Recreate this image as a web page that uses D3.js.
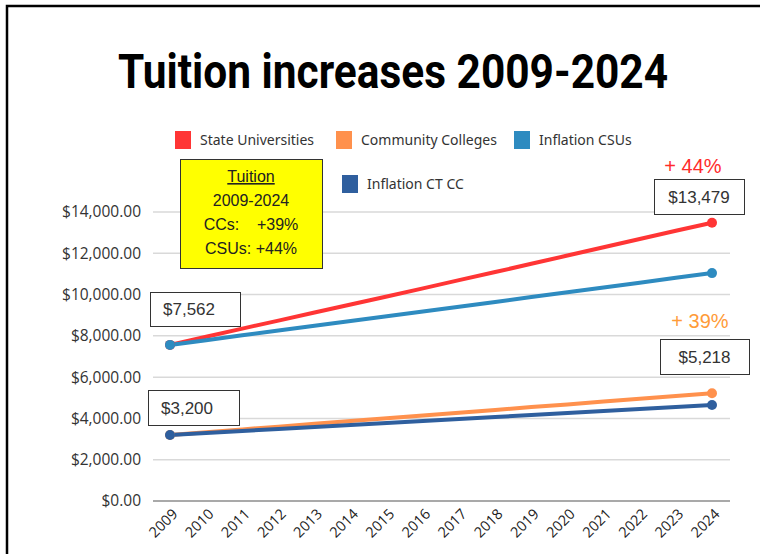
<!DOCTYPE html>
<html>
<head>
<meta charset="utf-8">
<script src="https://cdn.jsdelivr.net/npm/d3@7"></script>
<style>
  html, body { margin: 0; padding: 0; background: #fff; }
  svg { display: block; }
</style>
</head>
<body>
<svg id="chart" width="760" height="554"></svg>
<script>
// Annual tuition, 2009-2024
const years = ["2009","2010","2011","2012","2013","2014","2015","2016","2017","2018","2019","2020","2021","2022","2023","2024"];
const stateUniversities = [7562, 7960, 8350, 8740, 9130, 9520, 9910, 10300, 10700, 11090, 11490, 11890, 12290, 12690, 13090, 13479];
const communityColleges = [3200, 3330, 3470, 3600, 3740, 3870, 4010, 4140, 4280, 4410, 4550, 4680, 4820, 4950, 5090, 5218];
const inflationCSUs = [7562, 7790, 8030, 8260, 8490, 8720, 8950, 9180, 9410, 9640, 9880, 10110, 10340, 10570, 10810, 11040];
const inflationCTCC = [3200, 3300, 3390, 3490, 3590, 3680, 3780, 3880, 3970, 4070, 4170, 4260, 4360, 4460, 4550, 4650];
const yTicks = [0, 2000, 4000, 6000, 8000, 10000, 12000, 14000];

const seriesNames = ["State Universities", "Community Colleges", "Inflation CSUs", "Inflation CT CC"];
const seriesColors = ["#ff3535", "#ff914d", "#2e8bc0", "#2f5f9e"];
const seriesValues = [stateUniversities, communityColleges, inflationCSUs, inflationCTCC];

// stated percentage changes
const boxLines = [
  { t: "Tuition", u: true },
  { t: "2009-2024" },
  { t: "CCs:\u00a0\u00a0\u00a0\u00a0+39%" },
  { t: "CSUs: +44%" }
];
const csuChange = "+ 44%";
const ccChange = "+ 39%";

const svg = d3.select("#chart");

// outer frame
svg.append("rect")
  .attr("x", 7).attr("y", 6).attr("width", 800).attr("height", 600)
  .attr("fill", "none").attr("stroke", "#000").attr("stroke-width", 2.5);

// title
svg.append("text")
  .attr("x", 393).attr("y", 88)
  .attr("text-anchor", "middle")
  .attr("font-family", "Roboto, 'Liberation Sans', sans-serif")
  .attr("font-weight", 700)
  .attr("font-size", 48)
  .attr("textLength", 550)
  .attr("lengthAdjust", "spacingAndGlyphs")
  .attr("fill", "#000")
  .text("Tuition increases 2009-2024");

const x = d3.scalePoint().domain(years).range([170, 712]);
const y = d3.scaleLinear().domain([0, 14000]).range([501, 212]);

// gridlines
svg.append("g")
  .selectAll("line")
  .data(yTicks.filter(d => d > 0))
  .join("line")
  .attr("x1", 153).attr("x2", 730)
  .attr("y1", d => y(d)).attr("y2", d => y(d))
  .attr("stroke", "#d9d9d9").attr("stroke-width", 1.5);

// y axis labels
const yAxis = d3.axisLeft(y).tickValues(yTicks)
  .tickSize(0).tickPadding(0)
  .tickFormat(d => "$" + d3.format(",.2f")(d));
const yg = svg.append("g").attr("transform", "translate(141,0)").call(yAxis);
yg.select(".domain").remove();
yg.selectAll("text")
  .attr("font-family", "'Open Sans', sans-serif")
  .attr("font-size", 15.5)
  .attr("fill", "#333");

// baseline
svg.append("line")
  .attr("x1", 153).attr("x2", 730)
  .attr("y1", y(0)).attr("y2", y(0))
  .attr("stroke", "#8c8c8c").attr("stroke-width", 1.5);

// x axis labels
const xAxis = d3.axisBottom(x).tickSize(0).tickPadding(0);
const xg = svg.append("g").attr("transform", `translate(0,${y(0)})`).call(xAxis);
xg.select(".domain").remove();
xg.selectAll("text")
  .attr("font-family", "'Open Sans', sans-serif")
  .attr("font-size", 14.5)
  .attr("fill", "#222")
  .attr("text-anchor", "end")
  .attr("dy", null)
  .attr("transform", "translate(8,14) rotate(-45)");

// lines
const line = d3.line().x((d, i) => x(years[i])).y(d => y(d));
const drawOrder = [0, 1, 2, 3];
drawOrder.forEach(k => {
  svg.append("path")
    .datum(seriesValues[k])
    .attr("d", line)
    .attr("fill", "none")
    .attr("stroke", seriesColors[k])
    .attr("stroke-width", 4)
    .attr("stroke-linejoin", "round")
    .attr("stroke-linecap", "round");
});
drawOrder.forEach(k => {
  const vals = seriesValues[k];
  const ends = [0, vals.length - 1];
  svg.append("g").selectAll("circle")
    .data(ends)
    .join("circle")
    .attr("cx", i => x(years[i]))
    .attr("cy", i => y(vals[i]))
    .attr("r", 5)
    .attr("fill", seriesColors[k]);
});

// legend
const legendItems = [
  { k: 0, x: 175, y: 140 },
  { k: 1, x: 336, y: 140 },
  { k: 2, x: 514, y: 140 },
  { k: 3, x: 342, y: 184 }
];
const lg = svg.append("g").selectAll("g").data(legendItems).join("g")
  .attr("transform", d => `translate(${d.x},${d.y})`);
lg.append("rect")
  .attr("x", 0).attr("y", -9).attr("width", 16).attr("height", 18)
  .attr("fill", d => seriesColors[d.k]);
lg.append("text")
  .attr("x", 25).attr("y", 5)
  .attr("font-family", "'Noto Sans', sans-serif")
  .attr("font-size", 14)
  .attr("fill", "#333")
  .text(d => seriesNames[d.k]);

// summary box
const box = svg.append("g");
box.append("rect")
  .attr("x", 180.5).attr("y", 159.5).attr("width", 142).attr("height", 109)
  .attr("fill", "#ffff00").attr("stroke", "#333").attr("stroke-width", 1);
box.selectAll("text").data(boxLines).join("text")
  .attr("x", 251).attr("y", (d, i) => 182 + i * 24)
  .attr("text-anchor", "middle")
  .attr("font-family", "'Liberation Sans', Arial, sans-serif")
  .attr("font-size", 16)
  .attr("fill", "#222")
  .attr("text-decoration", d => d.u ? "underline" : null)
  .text(d => d.t);

// value callouts
const fmt = d3.format(",");
const callouts = [
  { v: stateUniversities[0], x: 150, y: 292, w: 90, h: 34, anchor: "start" },
  { v: communityColleges[0], x: 148, y: 390, w: 91, h: 35, anchor: "start" },
  { v: stateUniversities[stateUniversities.length - 1], x: 654, y: 179, w: 90, h: 35, anchor: "middle" },
  { v: communityColleges[communityColleges.length - 1], x: 660, y: 339, w: 89, h: 35, anchor: "middle" }
];
const cg = svg.append("g").selectAll("g").data(callouts).join("g");
cg.append("rect")
  .attr("x", d => d.x + 0.5).attr("y", d => d.y + 0.5)
  .attr("width", d => d.w).attr("height", d => d.h)
  .attr("fill", "#fff").attr("stroke", "#333").attr("stroke-width", 1);
cg.append("text")
  .attr("x", d => d.anchor === "start" ? d.x + 13 : d.x + d.w / 2)
  .attr("y", d => d.y + d.h / 2 + 6)
  .attr("text-anchor", d => d.anchor)
  .attr("font-family", "'Liberation Sans', Arial, sans-serif")
  .attr("font-size", 17)
  .attr("fill", "#333")
  .text(d => "$" + fmt(d.v));

// percent change labels
svg.append("text")
  .attr("x", 693).attr("y", 173)
  .attr("text-anchor", "middle")
  .attr("font-family", "'Liberation Sans', Arial, sans-serif")
  .attr("font-size", 20)
  .attr("fill", "#ff2b2b")
  .text(csuChange);
svg.append("text")
  .attr("x", 700).attr("y", 328)
  .attr("text-anchor", "middle")
  .attr("font-family", "'Liberation Sans', Arial, sans-serif")
  .attr("font-size", 20)
  .attr("fill", "#ff9b38")
  .text(ccChange);
</script>
</body>
</html>
